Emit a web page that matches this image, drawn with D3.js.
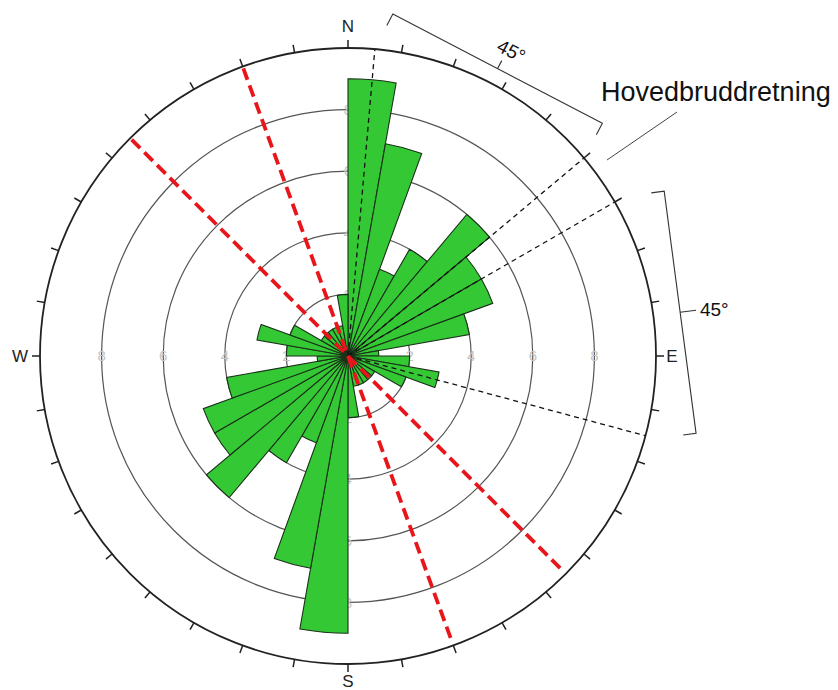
<!DOCTYPE html>
<html>
<head>
<meta charset="utf-8">
<script src="https://cdn.jsdelivr.net/npm/d3@7"></script>
<style>
  body { margin: 0; background: #fff; }
  text { font-family: "Liberation Sans", Arial, sans-serif; }
</style>
</head>
<body>
<div id="rose"></div>
<script>
// Rose diagram data: 10 degree bins, counts per bin
const binStarts = d3.range(0, 360, 10);
const counts = [9, 7, 3, 4, 6, 5, 5, 4, 1, 2, 3, 2, 1, 1, 1, 1, 1, 2,
                9, 7, 3, 4, 6, 5, 5, 4, 1, 2, 3, 2, 1, 1, 1, 1, 1, 2];
const ringValues = [2, 4, 6, 8];
const compass = [{ label: "N", deg: 0, off: 22 }, { label: "E", deg: 90, off: 16 },
                 { label: "S", deg: 180, off: 17 }, { label: "W", deg: 270, off: 20 }];
const fractureDirs = [5, 50, 60, 105];     // black dashed lines
const mainAxes = [340, 315];               // red dashed lines (through centre)
const brackets = [
    { from: 5, to: 50, label: "45°", dist: 324, rotate: true },
    { from: 60, to: 105, label: "45°", dist: 335, rotate: false }
];
const title = "Hovedbruddretning";

const width = 838, height = 690;
const cx = 348, cy = 356;
const maxR = 308;

const svg = d3.select("#rose").append("svg")
    .attr("width", width)
    .attr("height", height);

const g = svg.append("g").attr("transform", `translate(${cx},${cy})`);

const r = d3.scaleLinear().domain([0, 10]).range([0, maxR]);
const rad = d => d * Math.PI / 180;
// compass angle -> x,y
const pt = (deg, rr) => [rr * Math.sin(rad(deg)), -rr * Math.cos(rad(deg))];

// rings
g.selectAll(".ring")
    .data(ringValues)
    .enter().append("circle")
    .attr("r", d => r(d))
    .attr("fill", "none")
    .attr("stroke", "#555")
    .attr("stroke-width", 1.2);

// ring labels on the four axes
compass.forEach(c => {
    g.selectAll(null)
        .data(ringValues)
        .enter().append("text")
        .attr("x", d => pt(c.deg, r(d))[0])
        .attr("y", d => pt(c.deg, r(d))[1])
        .attr("dy", "0.35em")
        .attr("text-anchor", "middle")
        .attr("font-size", 15)
        .attr("fill", "#c4c4c4")
        .text(d => d);
});

// petals
const arc = d3.arc().innerRadius(0);
g.selectAll(".petal")
    .data(binStarts.map((s, i) => ({ start: s, value: counts[i] })))
    .enter().append("path")
    .attr("d", d => arc({ outerRadius: r(d.value), startAngle: rad(d.start), endAngle: rad(d.start + 10) }))
    .attr("fill", "#34c934")
    .attr("stroke", "#1a301a")
    .attr("stroke-width", 1.1);

// black dashed fracture directions
g.selectAll(".frac")
    .data(fractureDirs)
    .enter().append("line")
    .attr("x1", 0).attr("y1", 0)
    .attr("x2", d => pt(d, maxR)[0])
    .attr("y2", d => pt(d, maxR)[1])
    .attr("stroke", "#111")
    .attr("stroke-width", 1.3)
    .attr("stroke-dasharray", "5,4");

// red dashed main axes
g.selectAll(".axis")
    .data(mainAxes)
    .enter().append("line")
    .attr("x1", d => pt(d, maxR - 2)[0])
    .attr("y1", d => pt(d, maxR - 2)[1])
    .attr("x2", d => pt(d + 180, maxR - 2)[0])
    .attr("y2", d => pt(d + 180, maxR - 2)[1])
    .attr("stroke", "#e8151b")
    .attr("stroke-width", 3.8)
    .attr("stroke-dasharray", "12,6");

// outer circle + ticks
g.append("circle")
    .attr("r", maxR)
    .attr("fill", "none")
    .attr("stroke", "#222")
    .attr("stroke-width", 1.8);

g.selectAll(".tick")
    .data(d3.range(0, 360, 10))
    .enter().append("line")
    .attr("x1", d => pt(d, maxR)[0])
    .attr("y1", d => pt(d, maxR)[1])
    .attr("x2", d => pt(d, maxR + 8)[0])
    .attr("y2", d => pt(d, maxR + 8)[1])
    .attr("stroke", "#222")
    .attr("stroke-width", 1.5);

g.selectAll(".cardinal")
    .data(compass)
    .enter().append("text")
    .attr("x", d => pt(d.deg, maxR + d.off)[0])
    .attr("y", d => pt(d.deg, maxR + d.off)[1])
    .attr("dy", "0.35em")
    .attr("text-anchor", "middle")
    .attr("font-size", 17)
    .attr("fill", "#222")
    .text(d => d.label);

// 45 degree brackets
brackets.forEach(b => {
    const m = (b.from + b.to) / 2;
    const half = b.dist * Math.tan(rad((b.to - b.from) / 2)) * 0.88;
    const u = [Math.sin(rad(m)), -Math.cos(rad(m))];
    const v = [Math.cos(rad(m)), Math.sin(rad(m))];
    const P = (a, t) => [u[0] * a + v[0] * t, u[1] * a + v[1] * t];
    const hook = 13, tick = b.rotate ? 9 : 16;
    const path = d3.path();
    let p = P(b.dist - hook, -half); path.moveTo(p[0], p[1]);
    p = P(b.dist, -half); path.lineTo(p[0], p[1]);
    p = P(b.dist, half); path.lineTo(p[0], p[1]);
    p = P(b.dist - hook, half); path.lineTo(p[0], p[1]);
    p = P(b.dist, 0); path.moveTo(p[0], p[1]);
    p = P(b.dist + tick, 0); path.lineTo(p[0], p[1]);
    g.append("path")
        .attr("d", path.toString())
        .attr("fill", "none")
        .attr("stroke", "#333")
        .attr("stroke-width", 1.1);
    if (b.rotate) {
        const lp = P(b.dist + tick + 13, 4);
        g.append("text")
            .attr("transform", `translate(${lp[0]},${lp[1]}) rotate(${m})`)
            .attr("text-anchor", "middle")
            .attr("dy", "0.35em")
            .attr("font-size", 19)
            .attr("fill", "#111")
            .text(b.label);
    } else {
        const lp = P(b.dist + tick + 4, 0);
        g.append("text")
            .attr("x", lp[0]).attr("y", lp[1])
            .attr("dy", "0.35em")
            .attr("font-size", 19)
            .attr("fill", "#111")
            .text(b.label);
    }
});

// title with leader line
svg.append("text")
    .attr("x", 601).attr("y", 101)
    .attr("font-size", 27)
    .attr("fill", "#111")
    .text(title);

svg.append("line")
    .attr("x1", 607).attr("y1", 160)
    .attr("x2", 677).attr("y2", 112)
    .attr("stroke", "#444")
    .attr("stroke-width", 1);
</script>
</body>
</html>
